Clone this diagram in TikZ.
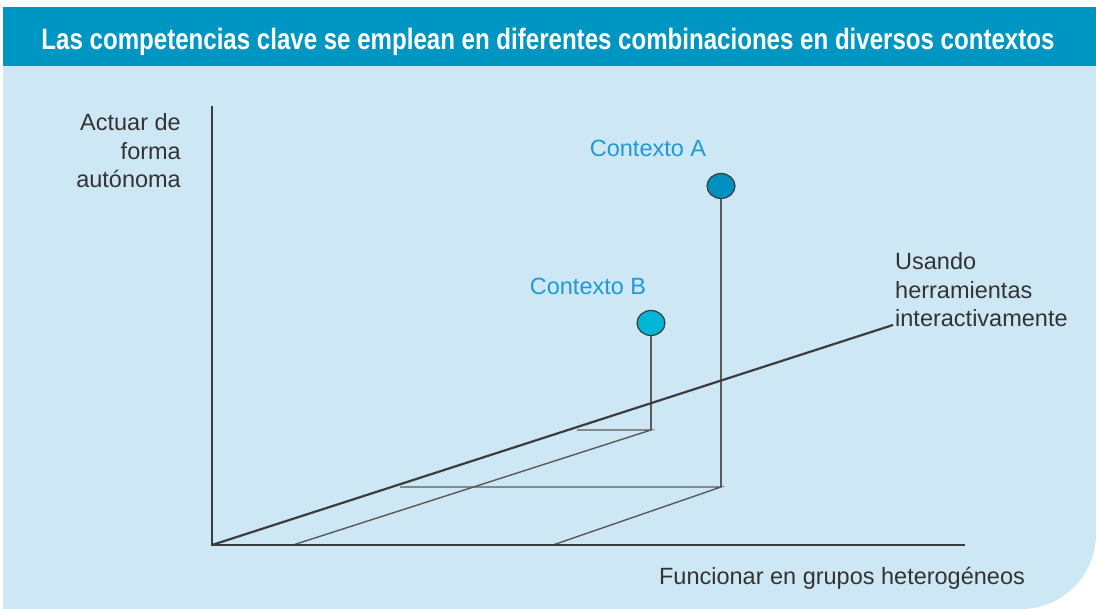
\documentclass[tikz,border=0pt]{standalone}
\usepackage{fontspec}
\setmainfont{Liberation Sans}
\usepackage{graphicx}
\usetikzlibrary{shapes.geometric}
\definecolor{hdr}{HTML}{0096C3}
\definecolor{bgc}{HTML}{CDE8F4}
\definecolor{lbl}{HTML}{1E9AD8}
\definecolor{ink}{HTML}{3C3C3C}
\definecolor{txt}{HTML}{333333}
\definecolor{ctxa}{HTML}{0090BF}
\definecolor{ctxb}{HTML}{00B5D6}
\tikzset{
  axis/.style={draw=ink, line width=2.2pt},
  guide/.style={draw=ink!85, line width=1.4pt},
  dot/.style={ellipse, draw=ink, line width=1.2pt, minimum width=28pt, minimum height=25pt, inner sep=0pt},
  axlabel/.style={text=txt, font=\fontsize{23.5}{28.5}\selectfont, inner sep=0pt},
  ctxlabel/.style={text=lbl, font=\fontsize{23.5}{28.5}\selectfont, inner sep=0pt},
}
\begin{document}
\begin{tikzpicture}[x=1pt,y=-1pt]
\useasboundingbox (0,0) rectangle (1096,609);
\fill[white] (0,0) rectangle (1096,609);
% background panel
\fill[bgc] (3,66) -- (1096,66) [rounded corners=75pt] -- (1096,609) [sharp corners] -- (3,609) -- cycle;
% header
\fill[hdr] (3,7) rectangle (1096,66);
\node[text=white, inner sep=0pt, anchor=base] (title) at (548,49.5) {\resizebox{1013pt}{\height}{\fontsize{29.5}{34}\selectfont\bfseries Las competencias clave se emplean en diferentes combinaciones en diversos contextos}};
% axes
\coordinate (O) at (212,545);
\coordinate (Ytop) at (212,106);
\coordinate (Xend) at (965,545);
\coordinate (Dend) at (893,325);
% guide points
\coordinate (Ab) at (721,487);
\coordinate (Ad) at (400,487);
\coordinate (Ax) at (553,545);
\coordinate (Bb) at (651,430);
\coordinate (Bd) at (577,430);
\coordinate (Bx) at (293,545);
% guides
\draw[guide] (Ad) -- (Ab) -- (Ax);
\draw[guide] (Bd) -- (Bb) -- (Bx);
\node[dot, fill=ctxa] (A) at (721,186) {};
\node[dot, fill=ctxb] (B) at (651,323) {};
\draw[guide] (A.south) -- (Ab);
\draw[guide] (B.south) -- (Bb);
\draw[axis] (Ytop) -- (O) -- (Xend);
\draw[axis] (O) -- (Dend);
% labels
\node[axlabel, align=right, anchor=east] (ylab) at (181,151) {Actuar de\\forma\\autónoma};
\node[axlabel, align=left, anchor=west] (dlab) at (895,290) {Usando\\herramientas\\interactivamente};
\node[axlabel] (xlab) at (842,578) {Funcionar en grupos heterogéneos};
\node[ctxlabel] (Alab) at (648,148) {Contexto A};
\node[ctxlabel] (Blab) at (588,286) {Contexto B};
\end{tikzpicture}
\end{document}
